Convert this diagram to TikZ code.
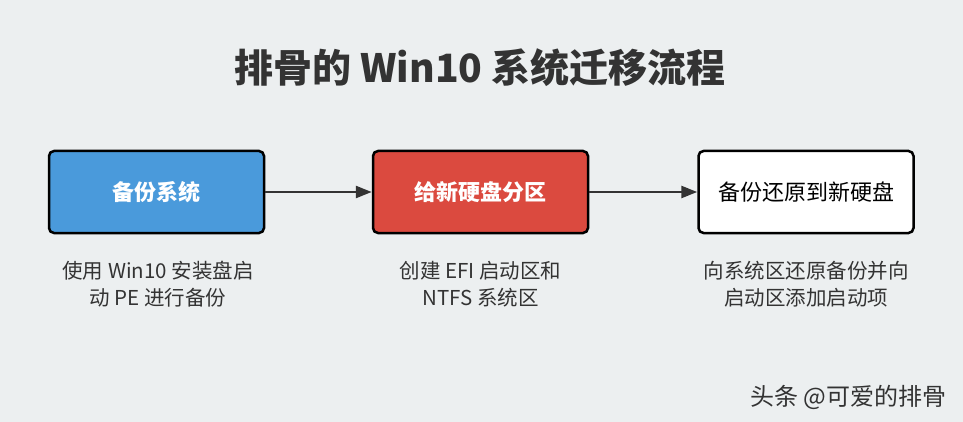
\documentclass[tikz,border=0pt]{standalone}
\usepackage{fontspec}
\setmainfont{Noto Sans CJK SC}
\usetikzlibrary{arrows.meta}
\definecolor{bgray}{HTML}{ECEFF0}
\definecolor{tgray}{HTML}{333333}
\definecolor{sblue}{HTML}{4A9ADB}
\definecolor{sred}{HTML}{DB4A3F}
\tikzset{
  stepbox/.style={draw=black, line width=2.5pt, rounded corners=5pt,
    minimum width=215pt, minimum height=82pt, inner sep=0pt,
    font=\fontsize{22}{26}\selectfont},
  boldstep/.style={stepbox, font=\fontsize{22}{26}\selectfont\bfseries, text=white},
  caption/.style={text=tgray, align=center, font=\fontsize{20.5}{27}\selectfont},
  flow/.style={draw=tgray, line width=2.5pt, -{Triangle[length=16pt,width=12pt]}}
}
\begin{document}
\begin{tikzpicture}[x=1pt, y=-1pt]
  \fill[bgray] (0,0) rectangle (963,422);
  \useasboundingbox (0,0) rectangle (963,422);

  \node[text=tgray, font=\fontsize{39}{44}\selectfont\bfseries] (title) at (480,68) {排骨的 Win10 系统迁移流程};

  \node[boldstep, fill=sblue] (backup)  at (156.5,192) {备份系统};
  \node[boldstep, fill=sred]  (part)    at (480.5,192) {给新硬盘分区};
  \node[stepbox, fill=white, text=black] (restore) at (806,192) {备份还原到新硬盘};

  \path (backup) edge[flow] (part);
  \path (part) edge[flow] (restore);

  \begin{scope}[every node/.style={caption}]
    \node (c1) at (158,284.5) {使用 Win10 安装盘启\\动 PE 进行备份};
    \node (c2) at (480.5,284.5) {创建 EFI 启动区和\\NTFS 系统区};
    \node (c3) at (806,284.5)   {向系统区还原备份并向\\启动区添加启动项};
  \end{scope}

  \node[text=tgray, font=\fontsize{24}{28}\selectfont, anchor=west] (mark) at (747,397) {头条 @可爱的排骨};
\end{tikzpicture}
\end{document}
